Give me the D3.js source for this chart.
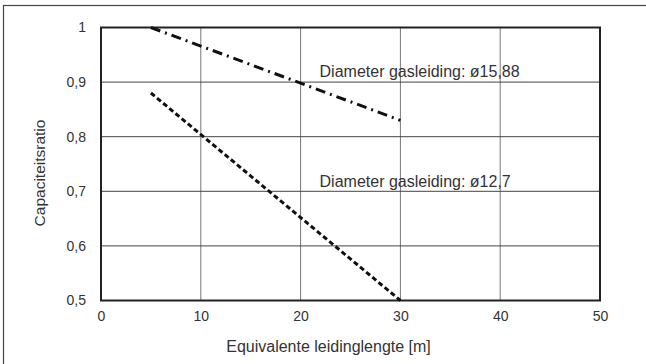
<!DOCTYPE html>
<html>
<head>
<meta charset="utf-8">
<script src="https://cdn.jsdelivr.net/npm/d3@7"></script>
<style>
  html, body { margin: 0; padding: 0; background: #fff; }
  svg { display: block; }
  text { font-family: "Liberation Sans", Arial, sans-serif; fill: #333; }
</style>
</head>
<body>
<svg id="chart" width="646" height="364"></svg>
<script>
// Equivalent pipe length (m) on the x axis, capacity ratio on the y axis
const xTicks = [0, 10, 20, 30, 40, 50];
const yTicks = [0.5, 0.6, 0.7, 0.8, 0.9, 1];

// Capacity ratio for gas pipe diameter 15.88
const lengths1588 = [5, 30];
const ratios1588 = [1.0, 0.83];

// Capacity ratio for gas pipe diameter 12.7
const lengths127 = [5, 30];
const ratios127 = [0.88, 0.5];

const seriesLabels = ["Diameter gasleiding: ø15,88", "Diameter gasleiding: ø12,7"];
const labelAnchors = [{ x: 21.9, y: 0.9095 }, { x: 21.9, y: 0.7085 }];

const svg = d3.select("#chart");
const margin = { left: 101, right: 46, top: 27.5, bottom: 63.5 };
const W = 646, H = 364;

const x = d3.scaleLinear().domain([0, 50]).range([margin.left, W - margin.right]);
const y = d3.scaleLinear().domain([0.5, 1]).range([H - margin.bottom, margin.top]);

const fmt = d => d === 1 ? "1" : d3.format(".1f")(d).replace(".", ",");

// Outer frame (right and bottom edges run past the canvas)
svg.append("rect")
  .attr("x", 3.5).attr("y", 5.5)
  .attr("width", 646).attr("height", 364)
  .attr("fill", "none").attr("stroke", "#444").attr("stroke-width", 1.2);

// Grid
const grid = svg.append("g");
grid.selectAll("line.v").data(xTicks).join("line")
  .attr("x1", d => x(d)).attr("x2", d => x(d))
  .attr("y1", y(1)).attr("y2", y(0.5))
  .attr("stroke", "#777").attr("stroke-width", 1);
grid.selectAll("line.h").data(yTicks).join("line")
  .attr("x1", x(0)).attr("x2", x(50))
  .attr("y1", d => y(d)).attr("y2", d => y(d))
  .attr("stroke", "#444").attr("stroke-width", 1);

// Plot border
svg.append("rect")
  .attr("x", x(0)).attr("y", y(1))
  .attr("width", x(50) - x(0)).attr("height", y(0.5) - y(1))
  .attr("fill", "none").attr("stroke", "#222").attr("stroke-width", 2);

// Axes (labels only)
const xAxis = svg.append("g")
  .attr("transform", `translate(0,${y(0.5) + 8})`)
  .call(d3.axisBottom(x).tickValues(xTicks).tickSize(0).tickPadding(3));
xAxis.select(".domain").remove();
xAxis.selectAll("text").attr("font-size", 14).style("fill", "#333")
  .attr("font-family", "Liberation Sans, Arial, sans-serif");

const yAxis = svg.append("g")
  .attr("transform", `translate(${x(0) - 15},0)`)
  .call(d3.axisLeft(y).tickValues(yTicks).tickFormat(fmt).tickSize(0).tickPadding(0));
yAxis.select(".domain").remove();
yAxis.selectAll("text").attr("font-size", 14).style("fill", "#333")
  .attr("font-family", "Liberation Sans, Arial, sans-serif");

// Axis titles
svg.append("text")
  .attr("x", 328.5).attr("y", 351.5)
  .attr("text-anchor", "middle").attr("font-size", 16)
  .text("Equivalente leidinglengte [m]");
svg.append("text")
  .attr("transform", `translate(45,173) rotate(-90)`)
  .attr("text-anchor", "middle").attr("font-size", 15.5)
  .text("Capaciteitsratio");

// Series lines
const line = d3.line().x(d => x(d[0])).y(d => y(d[1]));
svg.append("path")
  .datum(d3.zip(lengths1588, ratios1588))
  .attr("d", line).attr("fill", "none")
  .attr("stroke", "#111").attr("stroke-width", 3)
  .attr("stroke-dasharray", "10,5,2,5");
svg.append("path")
  .datum(d3.zip(lengths127, ratios127))
  .attr("d", line).attr("fill", "none")
  .attr("stroke", "#111").attr("stroke-width", 3)
  .attr("stroke-dasharray", "5,3");

// Series labels
svg.selectAll("text.series").data(seriesLabels).join("text")
  .attr("class", "series")
  .attr("x", (d, i) => x(labelAnchors[i].x))
  .attr("y", (d, i) => y(labelAnchors[i].y))
  .attr("font-size", 16)
  .text(d => d);
</script>
</body>
</html>
